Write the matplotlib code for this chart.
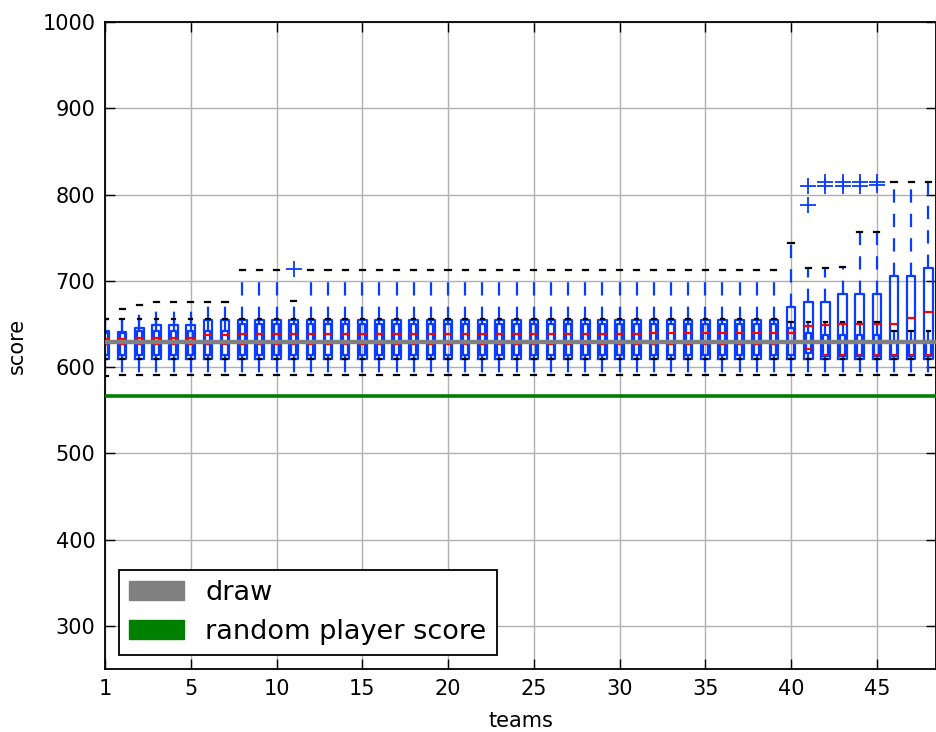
# -*- coding: utf-8 -*-
import numpy as np
import matplotlib.pyplot as plt
from matplotlib.patches import Patch

# team index (box position) 0..48, labels on the axis start at "1"
teams = list(range(49))
tick_pos = [0, 5, 10, 15, 20, 25, 30, 35, 40, 45]
tick_lab = ["1", "5", "10", "15", "20", "25", "30", "35", "40", "45"]

# outer box (series A)
a_lo  = [590] + [591] * 48
a_q1  = [609] * 49
a_med = [632, 632, 633.5, 634, 634, 634, 637, 637] + [638] * 24 + [639] * 8 + \
        [640, 648, 649, 650, 650, 650, 650, 657, 664]
a_q3  = [642, 641, 645, 649, 649, 649, 654, 654] + [655] * 32 + \
        [670, 675, 675, 685, 685, 685, 705, 705, 715]
a_hi  = [656, 667, 672, 676, 676, 676, 676, 676, 713, 713, 713, 677] + [713] * 28 + \
        [744, 715, 715, 716, 757, 757, 815, 815, 815]
a_fliers = {11: [714], 41: [788, 810], 42: [810, 815], 43: [810, 815],
            44: [810, 815], 45: [811, 815]}

# inner box (series B)
b_lo  = [609] * 49
b_q1  = [614] * 41 + [616] + [613] * 7
b_med = [627] * 40 + [628, 621] + [613.5] * 7
b_q3  = [640, 640] + [642] * 6 + [650] * 32 + [645, 640, 637, 637, 637, 637, 630, 630, 630]
b_hi  = [656] * 40 + [652] * 6 + [642] * 3

draw_score = 629
random_score = 566


def stats(lo, q1, med, q3, hi, fl):
    out = []
    for i in range(len(lo)):
        out.append(dict(whislo=lo[i], q1=q1[i], med=med[i], q3=q3[i],
                        whishi=hi[i], fliers=fl.get(i, [])))
    return out


plt.rcParams['font.family'] = 'DejaVu Sans'
fig = plt.figure(figsize=(9.37, 7.32), dpi=100)
fig.subplots_adjust(left=105 / 937, right=936 / 937, bottom=1 - 669 / 732, top=1 - 22 / 732)
ax = fig.add_subplot(111)

blue = '#0a3cff'
dash = (0, (6, 5))
for st, w, cw in [(stats(a_lo, a_q1, a_med, a_q3, a_hi, a_fliers), 0.5, 0.3),
                  (stats(b_lo, b_q1, b_med, b_q3, b_hi, {}), 0.3, 0.2)]:
    ax.bxp(st, positions=teams, widths=w, capwidths=cw, manage_ticks=False,
           boxprops=dict(color=blue, lw=1.6),
           whiskerprops=dict(color=blue, lw=1.6, linestyle=dash),
           capprops=dict(color='k', lw=1.6),
           medianprops=dict(color='r', lw=1.6),
           flierprops=dict(marker='+', markeredgecolor=blue, markersize=11,
                           markeredgewidth=1.3, linestyle='none'))

ax.axhline(draw_score, color='gray', lw=3.2, zorder=5)
ax.axhline(random_score, color='green', lw=2.6, zorder=5)

ax.set_xlim(0, 48.45)
ax.set_ylim(250, 1000)
ax.set_xticks(tick_pos)
ax.set_xticklabels(tick_lab)
ax.set_yticks([300, 400, 500, 600, 700, 800, 900, 1000])
ax.tick_params(direction='in', length=7, width=1, labelsize=15, pad=7,
               top=True, right=True)
ax.grid(True, color='#b0b0b0', lw=1, linestyle='-')
ax.set_axisbelow(True)
for s in ax.spines.values():
    s.set_linewidth(1.3)

ax.set_xlabel("teams", fontsize=15, labelpad=9)
ax.set_ylabel("score", fontsize=15, labelpad=11)

handles = [Patch(facecolor='gray', edgecolor='gray', label='draw'),
           Patch(facecolor='green', edgecolor='green', label='random player score')]
leg = ax.legend(handles=handles, loc='lower left', fontsize=19.5, fancybox=False,
                borderaxespad=0.5, borderpad=0.4, labelspacing=0.45,
                handlelength=2, handletextpad=0.8, framealpha=1)
leg.get_frame().set_edgecolor('k')
leg.get_frame().set_linewidth(1.3)
leg.set_zorder(10)

plt.savefig('out.png', dpi=100, facecolor='white')
